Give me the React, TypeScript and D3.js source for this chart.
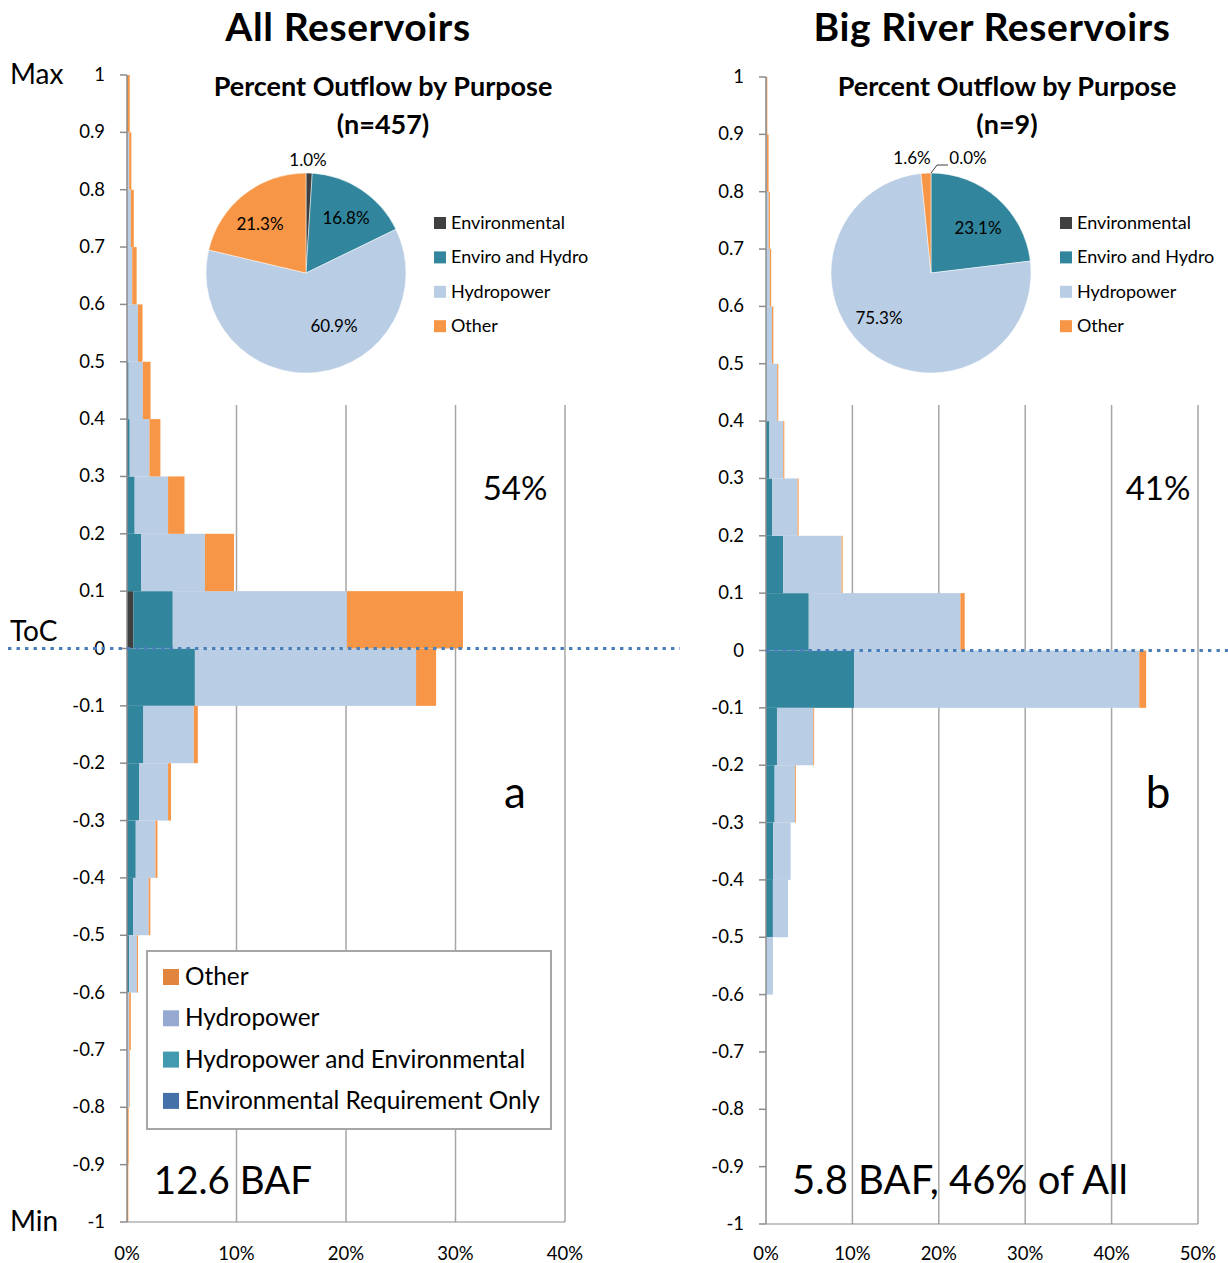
import React from "react";
import * as d3 from "d3";

// ---------- DATA ----------
// Bins of relative storage position (lower bound), from top (Max) to bottom (Min)
const binStarts = [0.9, 0.8, 0.7, 0.6, 0.5, 0.4, 0.3, 0.2, 0.1, 0.0, -0.1, -0.2, -0.3, -0.4, -0.5, -0.6, -0.7, -0.8, -0.9, -1.0];
const seriesKeys = ["Environmental", "Enviro and Hydro", "Hydropower", "Other"];

// All reservoirs, % of outflow per bin
const allEnv = [0, 0, 0, 0, 0, 0, 0, 0, 0, 0.58, 0, 0, 0, 0, 0, 0, 0, 0, 0, 0];
const allEnvHydro = [0, 0, 0, 0, 0, 0.15, 0.25, 0.7, 1.28, 3.6, 6.2, 1.5, 1.1, 0.8, 0.55, 0.2, 0, 0, 0, 0];
const allHydro = [0, 0.2, 0.35, 0.48, 1.0, 1.3, 1.8, 3.05, 5.84, 15.9, 20.2, 4.6, 2.65, 1.8, 1.43, 0.7, 0.2, 0.2, 0, 0];
const allOther = [0.25, 0.2, 0.27, 0.4, 0.42, 0.7, 1.0, 1.5, 2.65, 10.6, 1.83, 0.37, 0.27, 0.18, 0.15, 0.1, 0.15, 0.05, 0.15, 0.12];

// Big river reservoirs
const bigEnv = [0, 0, 0, 0, 0, 0, 0, 0, 0, 0, 0, 0, 0, 0, 0, 0, 0, 0, 0, 0];
const bigEnvHydro = [0, 0, 0, 0, 0, 0, 0.4, 0.7, 2.0, 4.95, 10.2, 1.27, 1.0, 0.85, 0.8, 0, 0, 0, 0, 0];
const bigHydro = [0, 0.1, 0.3, 0.45, 0.7, 1.3, 1.6, 2.95, 6.75, 17.55, 33.0, 4.2, 2.35, 2.0, 1.75, 0.8, 0, 0, 0, 0];
const bigOther = [0.15, 0.2, 0.15, 0.15, 0.15, 0.12, 0.12, 0.12, 0.12, 0.5, 0.8, 0.1, 0.1, 0, 0, 0, 0, 0, 0, 0];

// Pie: percent outflow by purpose
const pieLabels = ["Environmental", "Enviro and Hydro", "Hydropower", "Other"];
const allPie = [1.0, 16.8, 60.9, 21.3];
const bigPie = [0.0, 23.1, 75.3, 1.6];

// Ticks
const yTickValues = [1, 0.9, 0.8, 0.7, 0.6, 0.5, 0.4, 0.3, 0.2, 0.1, 0, -0.1, -0.2, -0.3, -0.4, -0.5, -0.6, -0.7, -0.8, -0.9, -1];
const pctTicksA = [0, 10, 20, 30, 40];
const pctTicksB = [0, 10, 20, 30, 40, 50];

// Bottom legend (panel a)
const legendLabels = ["Other", "Hydropower", "Hydropower and Environmental", "Environmental Requirement Only"];

// ---------- STYLE ----------
const FONT = "Lato, 'Open Sans', 'DejaVu Sans', sans-serif";
const seriesColors = ["#404040", "#31859C", "#B9CDE5", "#F79646"];
const legendColors = ["#E0843E", "#95A9D1", "#4399AF", "#4571A9"];
const gridColor = "#A6A6A6";
const axisColor = "#8C8C8C";
const tocColor = "#4A7EBB";

type PanelCfg = {
  title: string;
  titleX: number;
  env: number[];
  envHydro: number[];
  hydro: number[];
  other: number[];
  pie: number[];
  n: string;
  xTicks: number[];
  x0: number;
  x1: number;
  yTop: number;
  yBot: number;
  pieCx: number;
  pieTitleX: number;
  pieLegendX: number;
  pieLabelPos: ([number, number] | null)[];
  outsideLabels: { i: number; x: number; y: number; leader?: boolean }[];
  bigPct: string;
  annX: number;
  bottomText: string;
  bottomTextX: number;
  bottomTextSize: number;
  letter: string;
  tocX0: number;
  tocX1: number;
};

const panels: PanelCfg[] = [
  {
    title: "All Reservoirs",
    titleX: 348,
    env: allEnv,
    envHydro: allEnvHydro,
    hydro: allHydro,
    other: allOther,
    pie: allPie,
    n: "(n=457)",
    xTicks: pctTicksA,
    x0: 127,
    x1: 565,
    yTop: 75,
    yBot: 1222,
    pieCx: 306,
    pieTitleX: 383,
    pieLegendX: 434,
    pieLabelPos: [null, [346, 218], [334, 326], [260, 224]],
    outsideLabels: [{ i: 0, x: 308, y: 160 }],
    bigPct: "54%",
    annX: 515,
    letter: "a",
    bottomText: "12.6 BAF",
    bottomTextX: 233,
    bottomTextSize: 38.5,
    tocX0: 8,
    tocX1: 680,
  },
  {
    title: "Big River Reservoirs",
    titleX: 992,
    env: bigEnv,
    envHydro: bigEnvHydro,
    hydro: bigHydro,
    other: bigOther,
    pie: bigPie,
    n: "(n=9)",
    xTicks: pctTicksB,
    x0: 766,
    x1: 1198,
    yTop: 77,
    yBot: 1224,
    pieCx: 931,
    pieTitleX: 1007,
    pieLegendX: 1060,
    pieLabelPos: [null, [978, 228], [879, 318], null],
    outsideLabels: [
      { i: 3, x: 912, y: 158 },
      { i: 0, x: 968, y: 158, leader: true },
    ],
    bigPct: "41%",
    annX: 1158,
    letter: "b",
    bottomText: "5.8 BAF, 46% of All",
    bottomTextX: 960,
    bottomTextSize: 40,
    tocX0: 766,
    tocX1: 1228,
  },
];

function Panel({ p }: { p: PanelCfg }) {
  const xMax = p.xTicks[p.xTicks.length - 1];
  const x = d3.scaleLinear().domain([0, xMax]).range([p.x0, p.x1]);
  const y = d3.scaleLinear().domain([-1, 1]).range([p.yBot, p.yTop]);

  const rows = binStarts.map((b, i) => ({
    bin: b,
    [seriesKeys[0]]: p.env[i],
    [seriesKeys[1]]: p.envHydro[i],
    [seriesKeys[2]]: p.hydro[i],
    [seriesKeys[3]]: p.other[i],
  }));
  const stacked = d3.stack<any>().keys(seriesKeys)(rows);

  const pieCy = 273;
  const r = 100;
  const pieGen = d3.pie<number>().sort(null).value((d) => d);
  const arcs = pieGen(p.pie);
  const arcGen = d3.arc<d3.PieArcDatum<number>>().innerRadius(0).outerRadius(r);

  const gridTop = 405;
  const fmtPct = (v: number) => v.toFixed(1) + "%";

  return (
    <g>
      {/* big title */}
      <text
        x={p.titleX}
        y={41}
        textAnchor="middle"
        fontSize={39}
        letterSpacing={0.6}
        fontWeight="bold"
        fontFamily={FONT}
      >
        {p.title}
      </text>

      {/* gridlines */}
      {p.xTicks.slice(1).map((t) => (
        <line key={t} x1={x(t)} x2={x(t)} y1={gridTop} y2={p.yBot} stroke={gridColor} strokeWidth={1.5} />
      ))}

      {/* bars */}
      {stacked.map((s, si) => (
        <g key={s.key} fill={seriesColors[si]}>
          {s.map((d, i) => {
            const w = x(d[1]) - x(d[0]);
            if (w <= 0) return null;
            const b = binStarts[i];
            return (
              <rect
                key={i}
                x={x(d[0])}
                y={y(b + 0.1)}
                width={w}
                height={y(b) - y(b + 0.1)}
              />
            );
          })}
        </g>
      ))}

      {/* axes */}
      <line x1={p.x0} x2={p.x0} y1={p.yTop} y2={p.yBot} stroke={axisColor} strokeWidth={1.5} />
      <line x1={p.x0} x2={p.x1} y1={p.yBot} y2={p.yBot} stroke={axisColor} strokeWidth={1.2} />
      {yTickValues.map((v) => (
        <g key={v}>
          <line x1={p.x0 - 7} x2={p.x0} y1={y(v)} y2={y(v)} stroke={axisColor} strokeWidth={1.5} />
          <text x={p.x0 - 22} y={y(v) + 6} textAnchor="end" fontSize={18.5} fontFamily={FONT}>
            {String(v)}
          </text>
        </g>
      ))}
      {p.xTicks.map((t) => (
        <text key={t} x={x(t)} y={1260} textAnchor="middle" fontSize={18.5} fontFamily={FONT}>
          {t + "%"}
        </text>
      ))}

      {/* ToC dotted line */}
      <line
        x1={p.tocX0}
        x2={p.tocX1}
        y1={y(0)}
        y2={y(0)}
        stroke={tocColor}
        strokeWidth={3.2}
        strokeDasharray="3.4 5.1"
      />

      {/* annotations */}
      <text x={p.annX} y={500} textAnchor="middle" fontSize={33} fontFamily={FONT}>
        {p.bigPct}
      </text>
      <text x={p.annX} y={808} textAnchor="middle" fontSize={44} fontFamily={FONT}>
        {p.letter}
      </text>
      <text x={p.bottomTextX} y={1194} textAnchor="middle" fontSize={p.bottomTextSize} fontFamily={FONT}>
        {p.bottomText}
      </text>

      {/* pie title */}
      <text x={p.pieTitleX} y={96} textAnchor="middle" fontSize={27} fontWeight="bold" fontFamily={FONT}>
        Percent Outflow by Purpose
      </text>
      <text x={p.pieTitleX} y={134} textAnchor="middle" fontSize={27} fontWeight="bold" fontFamily={FONT}>
        {p.n}
      </text>

      {/* pie */}
      <g transform={`translate(${p.pieCx},${pieCy})`}>
        {arcs.map((a, i) =>
          a.endAngle - a.startAngle > 0 ? (
            <path key={i} d={arcGen(a) || ""} fill={seriesColors[i]} stroke="#fff" strokeWidth={0.5} />
          ) : null
        )}
      </g>
      {p.pieLabelPos.map((pos, i) =>
        pos ? (
          <text key={i} x={pos[0]} y={pos[1] + 6} textAnchor="middle" fontSize={17} fontFamily={FONT}>
            {fmtPct(p.pie[i])}
          </text>
        ) : null
      )}
      {p.outsideLabels.map((o) => (
        <g key={o.i}>
          <text x={o.x} y={o.y + 6} textAnchor="middle" fontSize={17} fontFamily={FONT}>
            {fmtPct(p.pie[o.i])}
          </text>
          {o.leader ? (
            <polyline
              points={`${p.pieCx},${pieCy - r} ${p.pieCx + 6},${pieCy - r - 8} ${o.x - 20},${pieCy - r - 8}`}
              fill="none"
              stroke="#404040"
              strokeWidth={1}
            />
          ) : null}
        </g>
      ))}

      {/* pie legend */}
      {pieLabels.map((l, i) => (
        <g key={l} transform={`translate(${p.pieLegendX},${223 + i * 34.4})`}>
          <rect x={0} y={-6} width={12} height={12} fill={seriesColors[i]} />
          <text x={17} y={6} fontSize={18} fontFamily={FONT}>
            {l}
          </text>
        </g>
      ))}
    </g>
  );
}

export default function App() {
  return (
    <svg
      width={1228}
      height={1263}
      viewBox="0 0 1228 1263"
      style={{ position: "absolute", left: 0, top: 0, background: "#fff" }}
    >
      <rect width={1228} height={1263} fill="#fff" />
      {panels.map((p) => (
        <Panel key={p.title} p={p} />
      ))}

      {/* left side labels */}
      <text x={10} y={84} fontSize={28} fontFamily={FONT}>Max</text>
      <text x={10} y={641} fontSize={28} fontFamily={FONT}>ToC</text>
      <text x={10} y={1231} fontSize={28} fontFamily={FONT}>Min</text>

      {/* bottom legend for panel a */}
      <g>
        <rect x={147} y={951} width={404} height={178} fill="#fff" stroke="#A6A6A6" strokeWidth={2} />
        {legendLabels.map((l, i) => (
          <g key={l} transform={`translate(163,${977 + i * 41.3})`}>
            <rect x={0} y={-8} width={16} height={16} fill={legendColors[i]} />
            <text x={22} y={8} fontSize={24.4} fontFamily={FONT}>
              {l}
            </text>
          </g>
        ))}
      </g>
    </svg>
  );
}
